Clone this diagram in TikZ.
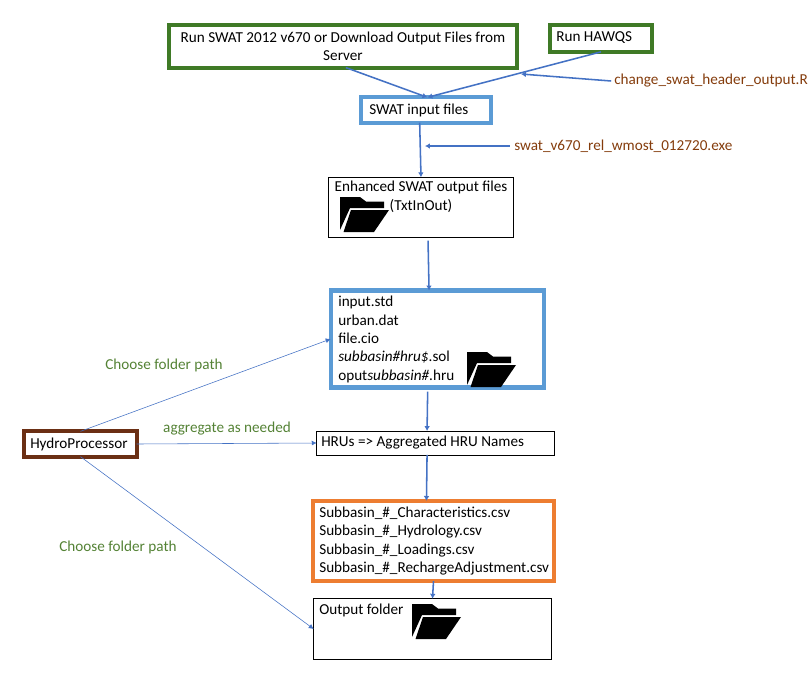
\documentclass[tikz,border=0pt]{standalone}
\usepackage{fontspec}
\setmainfont{Carlito}
\usepackage{xcolor}
\definecolor{boxgreen}{HTML}{3F7A26}
\definecolor{boxblue}{HTML}{5B9BD5}
\definecolor{boxorange}{HTML}{ED7D31}
\definecolor{boxbrown}{HTML}{6B2F14}
\definecolor{linkblue}{HTML}{4472C4}
\definecolor{textgreen}{HTML}{548235}
\definecolor{textbrown}{HTML}{843C0C}
\usetikzlibrary{arrows.meta}
\tikzset{
  flowbox/.style={draw,rectangle,inner sep=0pt,outer sep=0pt,line width=.6pt,fill=white},
  heavybox/.style={flowbox,line width=2.9pt,draw=#1},
  boxtext/.style={inner sep=0pt,align=left,anchor=west},
  link/.style={draw=linkblue,line width=1.1pt,-{Latex[length=3.5pt,width=4pt]}},
  thinlink/.style={draw=linkblue,line width=.4pt,-{Latex[length=3.5pt,width=3.5pt]}},
  greenlabel/.style={text=textgreen,inner sep=0pt},
  brownlabel/.style={text=textbrown,inner sep=0pt,anchor=west},
  folder/.pic={
    \fill[black] (0,0) -- (20,0) -- (26,4.5) -- (44,4.5) -- (44,11) -- (10,11) -- (0,33) -- cycle;
    \fill[black] (11,13) -- (49,13) -- (34,35) -- (3.5,35) -- cycle;
  }
}
\begin{document}
\begin{tikzpicture}[x=0.025cm,y=-0.025cm,every node/.style={font=\fontsize{10.8}{13}\selectfont}]
   \useasboundingbox (0,0) rectangle (812,673);
   % top row
   \node[heavybox=boxgreen,minimum width=248pt,minimum height=30pt,align=center] (runswat) at (343,46.5) {Run SWAT 2012 v670 or Download Output Files from\\Server};
   \node[heavybox=boxgreen,minimum width=73pt,minimum height=19pt] (runhawqs) at (601,38.5) {};
   \node[boxtext] (hawqstext) at (556,38) {Run HAWQS};
   \node[heavybox=boxblue,minimum width=92pt,minimum height=18pt] (swatinput) at (426,110) {};
   \node[boxtext] (inputtext) at (369,110) {SWAT input files};
   \node[flowbox,minimum width=132pt,minimum height=43pt] (enhanced) at (421,207.5) {};
   \node[inner sep=0pt,anchor=north,align=center] (enhancedtext) at (421,181) {Enhanced SWAT output files\\(TxtInOut)};
   \pic at (340,197) {folder};
   % middle
   \node[heavybox=boxblue,minimum width=152pt,minimum height=69pt] (inputlist) at (437.5,339) {};
   \node[boxtext] (listtext) at (338,339.5) {input.std\\urban.dat\\file.cio\\\textit{subbasin\#hru\$}.sol\\oput\textit{subbasin\#}.hru};
   \pic at (467,352) {folder};
   \node[flowbox,minimum width=169pt,minimum height=17pt] (hrunames) at (435.5,443) {};
   \node[boxtext] (hrutext) at (321,443) {HRUs => Aggregated HRU Names};
   \node[heavybox=boxbrown,minimum width=80pt,minimum height=18pt] (hydro) at (80.5,444) {};
   \node[boxtext] (hydrotext) at (30,444) {HydroProcessor};
   % bottom
   \node[heavybox=boxorange,minimum width=172pt,minimum height=57pt] (csvlist) at (433.5,541) {};
   \node[boxtext] (csvtext) at (319,541) {Subbasin\_\#\_Characteristics.csv\\Subbasin\_\#\_Hydrology.csv\\Subbasin\_\#\_Loadings.csv\\Subbasin\_\#\_RechargeAdjustment.csv};
   \node[flowbox,minimum width=169pt,minimum height=43pt] (output) at (432.5,629) {};
   \node[boxtext] (outputtext) at (319,610) {Output folder};
   \pic at (412,604) {folder};
   % side labels
   \node[brownlabel] (headerscript) at (614,81) {change\_swat\_header\_output.R};
   \node[brownlabel] (exescript) at (514,146) {swat\_v670\_rel\_wmost\_012720.exe};
   \node[greenlabel] (choosetop) at (164,365) {Choose folder path};
   \node[greenlabel] (choosebottom) at (118,547) {Choose folder path};
   \node[greenlabel] (aggregate) at (227,429) {aggregate as needed};
   \coordinate (headerjoin) at (521,74);
   \coordinate (exejoin) at (425,146);
   % connectors
   \draw[link] ([xshift=2pt]runswat.south) -- ([xshift=1pt]swatinput.north);
   \draw[link] (runhawqs.south) -- ([xshift=1pt]swatinput.north);
   \draw[link] ([xshift=-2pt]headerscript.west) -- (headerjoin);
   \draw[link] ([xshift=-4.5pt]swatinput.south) -- (enhanced.north);
   \draw[link] ([xshift=-3pt]exescript.west) -- (exejoin);
   \draw[link] ([xshift=5pt,yshift=-2pt]enhanced.south) -- ([xshift=-6pt]inputlist.north);
   \draw[link] ([xshift=-7pt,yshift=-3pt]inputlist.south) -- ([xshift=-6pt]hrunames.north);
   \draw[link] ([xshift=-6pt]hrunames.south) -- ([xshift=-5pt]csvlist.north);
   \draw[link] (csvlist.south) -- (output.north);
   \draw[thinlink] (hydro.north) -- (inputlist.west);
   \draw[thinlink] (hydro.east) -- (hrunames.west);
   \draw[thinlink] (hydro.south) -- (output.west);
\end{tikzpicture}
\end{document}
